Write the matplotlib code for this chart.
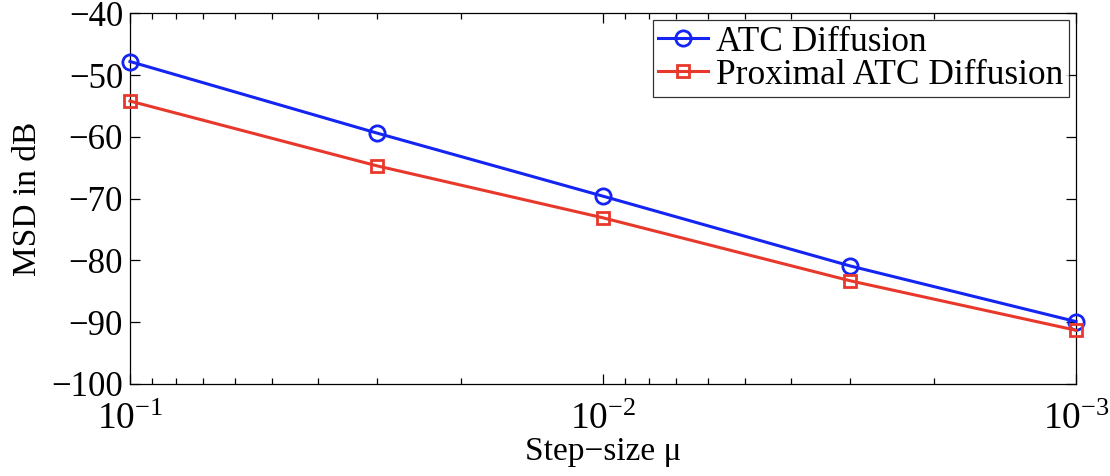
import numpy as np
import matplotlib
matplotlib.use("Agg")
import matplotlib.pyplot as plt

plt.rcParams['font.family'] = ['Liberation Serif', 'DejaVu Serif']
plt.rcParams['mathtext.fontset'] = 'custom'
plt.rcParams['mathtext.rm'] = 'Liberation Serif'
plt.rcParams['mathtext.it'] = 'Liberation Serif:italic'

# step sizes and MSD values (dB)
step_size = [1e-1, 3e-2, 1e-2, 3e-3, 1e-3]
msd_atc = [-47.8, -59.4, -69.6, -80.9, -89.9]
msd_prox = [-54.2, -64.7, -73.1, -83.3, -91.3]

fig = plt.figure(figsize=(11.1, 4.76), dpi=100)
ax = fig.add_axes([0.1171, 0.1933, 0.8523, 0.7787])

ax.semilogx(step_size, msd_atc, color='#1424F2', lw=2.2, marker='o', ms=11,
            mfc='none', mew=2, label='ATC Diffusion', clip_on=False, zorder=3)
ax.semilogx(step_size, msd_prox, color='#E8382C', lw=2.2, marker='s', ms=8.5,
            mfc='none', mew=2, label='Proximal ATC Diffusion', clip_on=False, zorder=3)

ax.set_xlim(1e-1, 1e-3)
ax.set_ylim(-100, -40)
ax.set_yticks(np.arange(-100, -39, 10))

ax.tick_params(which='both', direction='in', top=True, right=True, labelsize=25)
ax.tick_params(which='major', length=7, width=0.9)
ax.tick_params(which='minor', length=4, width=0.9)
ax.tick_params(axis='x', pad=13, labelsize=27)
ax.tick_params(axis='y', pad=5)
for s in ax.spines.values():
    s.set_linewidth(0.9)

ax.set_xlabel('Step\u2212size \u03bc', fontsize=24, labelpad=0)
ax.set_ylabel('MSD in dB', fontsize=24, labelpad=6)

leg = ax.legend(loc='upper right', fontsize=25.5, frameon=True, fancybox=False,
                edgecolor='black', borderpad=0.15, handlelength=1.4,
                handletextpad=0.25, labelspacing=0.0, borderaxespad=0.2)
leg.get_frame().set_linewidth(0.9)
leg.set_zorder(5)

fig.savefig('out.png', dpi=100)
